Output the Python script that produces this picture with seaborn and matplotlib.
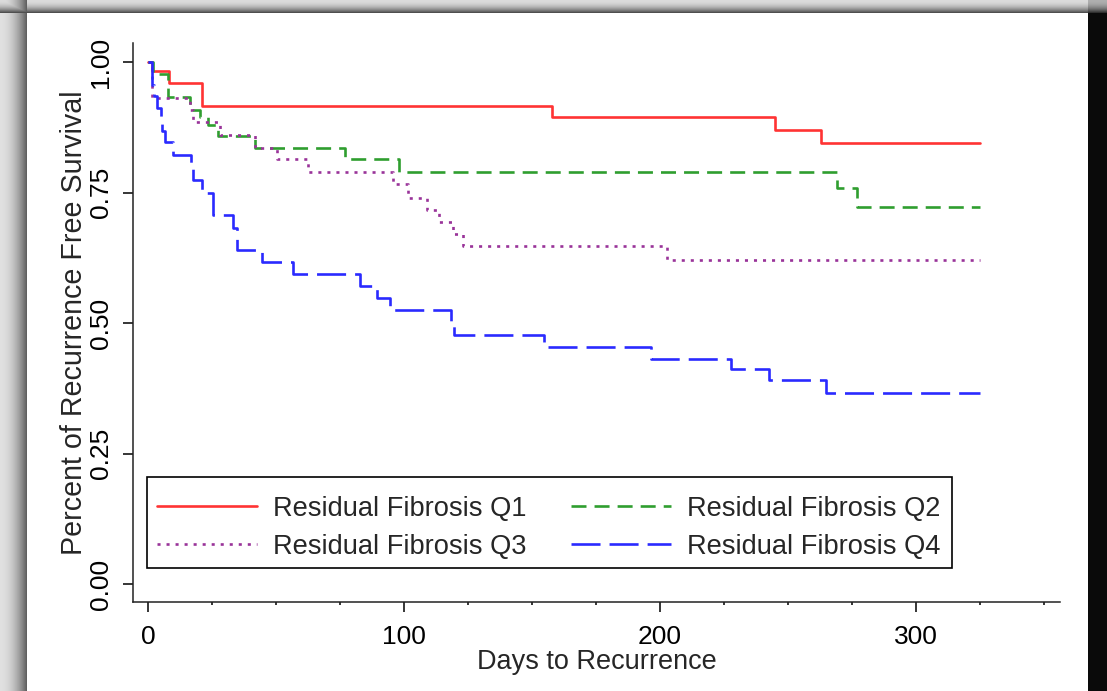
import numpy as np
import pandas as pd
import matplotlib
matplotlib.use("Agg")
import matplotlib.pyplot as plt
from matplotlib.patches import Rectangle
import seaborn as sns

# ---------------- data ----------------
labels = ["Residual Fibrosis Q1", "Residual Fibrosis Q2",
          "Residual Fibrosis Q3", "Residual Fibrosis Q4"]

days_q1 = [0, 1.5, 8.3, 21, 158, 245, 263, 325]
surv_q1 = [1.0, 0.983, 0.959, 0.916, 0.894, 0.870, 0.844, 0.844]

days_q2 = [0, 2, 8, 16.5, 20.5, 23.5, 27.5, 42, 77, 98, 269, 277, 325]
surv_q2 = [1.0, 0.978, 0.933, 0.909, 0.894, 0.879, 0.858, 0.836, 0.814,
           0.789, 0.758, 0.723, 0.723]

days_q3 = [0, 1.5, 16.5, 17.7, 28, 42, 50.3, 62.5, 95.7, 101.6, 109, 113.7,
           119, 123, 202.6, 325]
surv_q3 = [1.0, 0.932, 0.909, 0.886, 0.860, 0.836, 0.814, 0.789, 0.766,
           0.739, 0.716, 0.694, 0.670, 0.647, 0.621, 0.621]

days_q4 = [0, 1.5, 2.2, 3.4, 5.0, 5.4, 6.6, 9.8, 16.7, 17.6, 21, 25.5, 33.3,
           34.6, 44.5, 56.8, 82.8, 89.3, 94.5, 118.5, 119.5, 154.7, 196.4,
           227.6, 242.7, 265, 325]
surv_q4 = [1.0, 0.956, 0.934, 0.912, 0.890, 0.868, 0.846, 0.822, 0.800,
           0.774, 0.750, 0.707, 0.683, 0.640, 0.617, 0.593, 0.571, 0.548,
           0.525, 0.501, 0.478, 0.455, 0.432, 0.411, 0.390, 0.366, 0.366]

x_major = [0, 100, 200, 300]
x_minor = [25, 50, 75, 125, 150, 175, 225, 250, 275, 325, 350]
y_ticks = [0.0, 0.25, 0.50, 0.75, 1.00]
y_ticklabels = ["0.00", "0.25", "0.50", "0.75", "1.00"]

colors = ["#ff3333", "#2f9e2f", "#993399", "#2a2aff"]

frames = []
for lab, d, s in zip(labels, [days_q1, days_q2, days_q3, days_q4],
                     [surv_q1, surv_q2, surv_q3, surv_q4]):
    frames.append(pd.DataFrame({"day": d, "surv": s, "group": lab}))
df = pd.concat(frames, ignore_index=True)

# ---------------- style ----------------
sns.set_theme(style="ticks")
plt.rcParams["font.family"] = ["Liberation Sans", "DejaVu Sans"]
plt.rcParams["lines.scale_dashes"] = False

FS = 19
fig = plt.figure(figsize=(11.07, 6.91), dpi=100)

# decorative shadowed frame
H, W = 691, 1107
bg = np.ones((H, W))
c = np.arange(W)
r = np.arange(H)
left = np.ones(W)
left[:27] = 0.88 - 0.50 * (c[:27] / 26.0) ** 2
top = np.ones(H)
top[:13] = 0.86 - 0.55 * (r[:13] / 12.0) ** 2
bg = np.minimum(bg, left[None, :])
bg = np.minimum(bg, top[:, None])
right_band = np.ones((H, W))
right_band[13:, 1088:] = 0.04
right_band[:13, 1088:] = (0.86 - 0.62 * (r[:13] / 12.0) ** 2)[:, None] * 0.8
bg = np.minimum(bg, right_band)
bg_ax = fig.add_axes([0, 0, 1, 1], zorder=-10)
bg_ax.imshow(np.dstack([bg, bg, bg]), aspect="auto", extent=[0, 1, 0, 1],
             interpolation="nearest")
bg_ax.set_axis_off()

ax = fig.add_axes([0.1201, 0.1292, 0.8374, 0.8085])
ax.set_facecolor("none")

dash_map = {labels[0]: "", labels[1]: (10.8, 5.8),
            labels[2]: (2.2, 4.3), labels[3]: (20.9, 6.5)}
sns.lineplot(data=df, x="day", y="surv", hue="group", style="group",
             hue_order=labels, style_order=labels,
             palette=dict(zip(labels, colors)), dashes=dash_map,
             estimator=None, sort=False, drawstyle="steps-post",
             linewidth=1.9, legend=False, ax=ax)

ax.set_xlim(-5.86, 356.25)
ax.set_ylim(-0.0339, 1.0364)
ax.set_xticks(x_major)
ax.set_xticks(x_minor, minor=True)
ax.set_yticks(y_ticks)
ax.set_yticklabels(y_ticklabels)
ax.tick_params(axis="both", which="major", length=7.2, width=1.1,
               color="black", labelsize=FS, labelcolor="black")
ax.tick_params(axis="x", which="minor", length=2.2, width=1.1, color="black")
ax.tick_params(axis="x", which="major", pad=9.6)
ax.tick_params(axis="y", which="major", pad=7)
for t in ax.get_yticklabels():
    t.set_rotation(90)
    t.set_va("center")

for side in ["top", "right"]:
    ax.spines[side].set_visible(False)
for side in ["left", "bottom"]:
    ax.spines[side].set_color("#222222")
    ax.spines[side].set_linewidth(1.1)

ax.set_xlabel("Days to Recurrence", fontsize=19.5, labelpad=0)
ax.set_ylabel("Percent of Recurrence Free Survival", fontsize=20.6,
              labelpad=1)

# legend box (drawn as a plain rectangle so entries can sit centred in it)
ax.add_patch(Rectangle((0.0151, 0.0603), 0.8684, 0.1629,
                       transform=ax.transAxes, facecolor="white",
                       edgecolor="black", linewidth=1.2, zorder=4))

lines = ax.get_lines()
order = [0, 2, 1, 3]
leg = ax.legend([lines[i] for i in order], [labels[i] for i in order],
                ncol=2, loc="lower left", bbox_to_anchor=(0.0112, 0.0505),
                frameon=False, borderpad=0.5, handlelength=3.68,
                handletextpad=0.6, columnspacing=1.6, labelspacing=0.45,
                borderaxespad=0, fontsize=19.6)
leg.set_zorder(5)

fig.savefig("out.png", dpi=100)
